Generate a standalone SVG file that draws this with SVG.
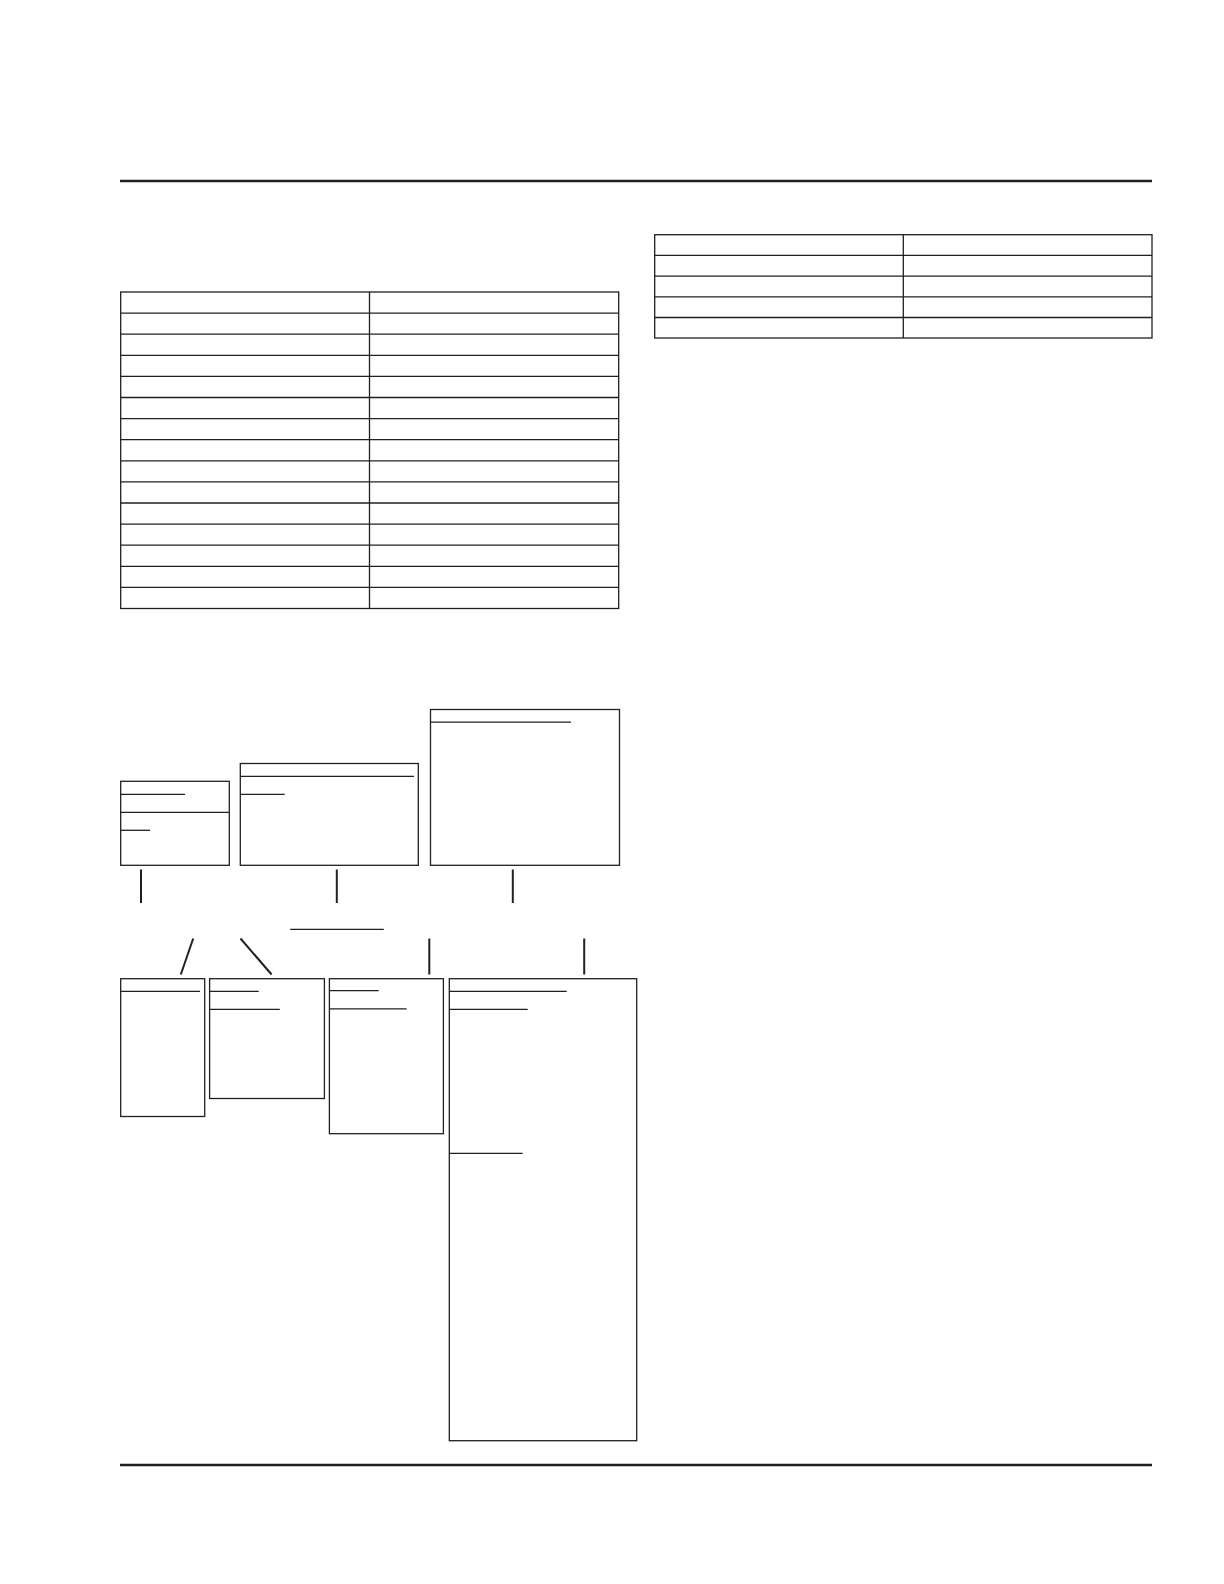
<svg xmlns="http://www.w3.org/2000/svg" width="1224" height="1584" viewBox="0 0 1224 1584">
<style>
.rule{stroke:#231f20;stroke-width:2.3;fill:none}
.box{stroke:#231f20;stroke-width:1.3;fill:#fff}
.ln{stroke:#231f20;stroke-width:1.3;fill:none}
.con{stroke:#231f20;stroke-width:2;fill:none}
</style>
<rect width="1224" height="1584" fill="#fff"/>
<g id="rules">
<line class="rule" x1="120" y1="181" x2="1152" y2="181"/>
<line class="rule" x1="120" y1="1465" x2="1152" y2="1465"/>
</g>
<g id="table-left">
<rect class="box" x="120.7" y="292" width="498" height="316.5"/>
<line class="ln" x1="369.5" y1="292" x2="369.5" y2="608.5"/>
<line class="ln" x1="120.7" y1="313.1" x2="618.7" y2="313.1"/>
<line class="ln" x1="120.7" y1="334.2" x2="618.7" y2="334.2"/>
<line class="ln" x1="120.7" y1="355.3" x2="618.7" y2="355.3"/>
<line class="ln" x1="120.7" y1="376.4" x2="618.7" y2="376.4"/>
<line class="ln" x1="120.7" y1="397.5" x2="618.7" y2="397.5"/>
<line class="ln" x1="120.7" y1="418.6" x2="618.7" y2="418.6"/>
<line class="ln" x1="120.7" y1="439.7" x2="618.7" y2="439.7"/>
<line class="ln" x1="120.7" y1="460.8" x2="618.7" y2="460.8"/>
<line class="ln" x1="120.7" y1="481.9" x2="618.7" y2="481.9"/>
<line class="ln" x1="120.7" y1="503" x2="618.7" y2="503"/>
<line class="ln" x1="120.7" y1="524.1" x2="618.7" y2="524.1"/>
<line class="ln" x1="120.7" y1="545.2" x2="618.7" y2="545.2"/>
<line class="ln" x1="120.7" y1="566.3" x2="618.7" y2="566.3"/>
<line class="ln" x1="120.7" y1="587.4" x2="618.7" y2="587.4"/>
</g>
<g id="table-right">
<rect class="box" x="654.7" y="234.7" width="497.3" height="103.3"/>
<line class="ln" x1="903.3" y1="234.7" x2="903.3" y2="338"/>
<line class="ln" x1="654.7" y1="255.4" x2="1152" y2="255.4"/>
<line class="ln" x1="654.7" y1="276.1" x2="1152" y2="276.1"/>
<line class="ln" x1="654.7" y1="296.8" x2="1152" y2="296.8"/>
<line class="ln" x1="654.7" y1="317.5" x2="1152" y2="317.5"/>
</g>
<g id="box-a">
<rect class="box" x="120.7" y="781.3" width="108.6" height="84"/>
<line class="ln" x1="120.7" y1="794.3" x2="185" y2="794.3"/>
<line class="ln" x1="120.7" y1="812.3" x2="229.3" y2="812.3"/>
<line class="ln" x1="120.7" y1="830.3" x2="150" y2="830.3"/>
</g>
<g id="box-b">
<rect class="box" x="240.3" y="763.5" width="178" height="101.8"/>
<line class="ln" x1="240.3" y1="776.3" x2="414" y2="776.3"/>
<line class="ln" x1="240.3" y1="794.3" x2="284.7" y2="794.3"/>
</g>
<g id="box-c">
<rect class="box" x="430.5" y="709.5" width="189" height="155.8"/>
<line class="ln" x1="430.5" y1="722.2" x2="571" y2="722.2"/>
</g>
<g id="box-d">
<rect class="box" x="120.7" y="978.7" width="84" height="137.8"/>
<line class="ln" x1="120.7" y1="991.3" x2="200" y2="991.3"/>
</g>
<g id="box-e">
<rect class="box" x="209.6" y="978.7" width="114.8" height="119.8"/>
<line class="ln" x1="209.6" y1="991.3" x2="258.7" y2="991.3"/>
<line class="ln" x1="209.6" y1="1009.3" x2="279.8" y2="1009.3"/>
</g>
<g id="box-f">
<rect class="box" x="329.4" y="978.7" width="114" height="155"/>
<line class="ln" x1="329.4" y1="990.6" x2="378.7" y2="990.6"/>
<line class="ln" x1="329.4" y1="1008.8" x2="406.7" y2="1008.8"/>
</g>
<g id="box-g">
<rect class="box" x="449.3" y="978.7" width="187.4" height="462"/>
<line class="ln" x1="449.3" y1="991.3" x2="566.7" y2="991.3"/>
<line class="ln" x1="449.3" y1="1009.3" x2="527.7" y2="1009.3"/>
<line class="ln" x1="449.3" y1="1153.3" x2="522.7" y2="1153.3"/>
</g>
<g id="connectors">
<line class="con" x1="141" y1="869.5" x2="141" y2="903"/>
<line class="con" x1="336.8" y1="869.5" x2="336.8" y2="903"/>
<line class="con" x1="512.8" y1="869.5" x2="512.8" y2="903"/>
<line class="ln" x1="290.2" y1="929.3" x2="383.8" y2="929.3"/>
<line class="con" x1="193.2" y1="938.5" x2="180.8" y2="974.5"/>
<line class="con" x1="240.5" y1="938.5" x2="271.6" y2="974.5"/>
<line class="con" x1="429.3" y1="938.5" x2="429.3" y2="974.5"/>
<line class="con" x1="584.2" y1="938.5" x2="584.2" y2="974.5"/>
</g>
</svg>
